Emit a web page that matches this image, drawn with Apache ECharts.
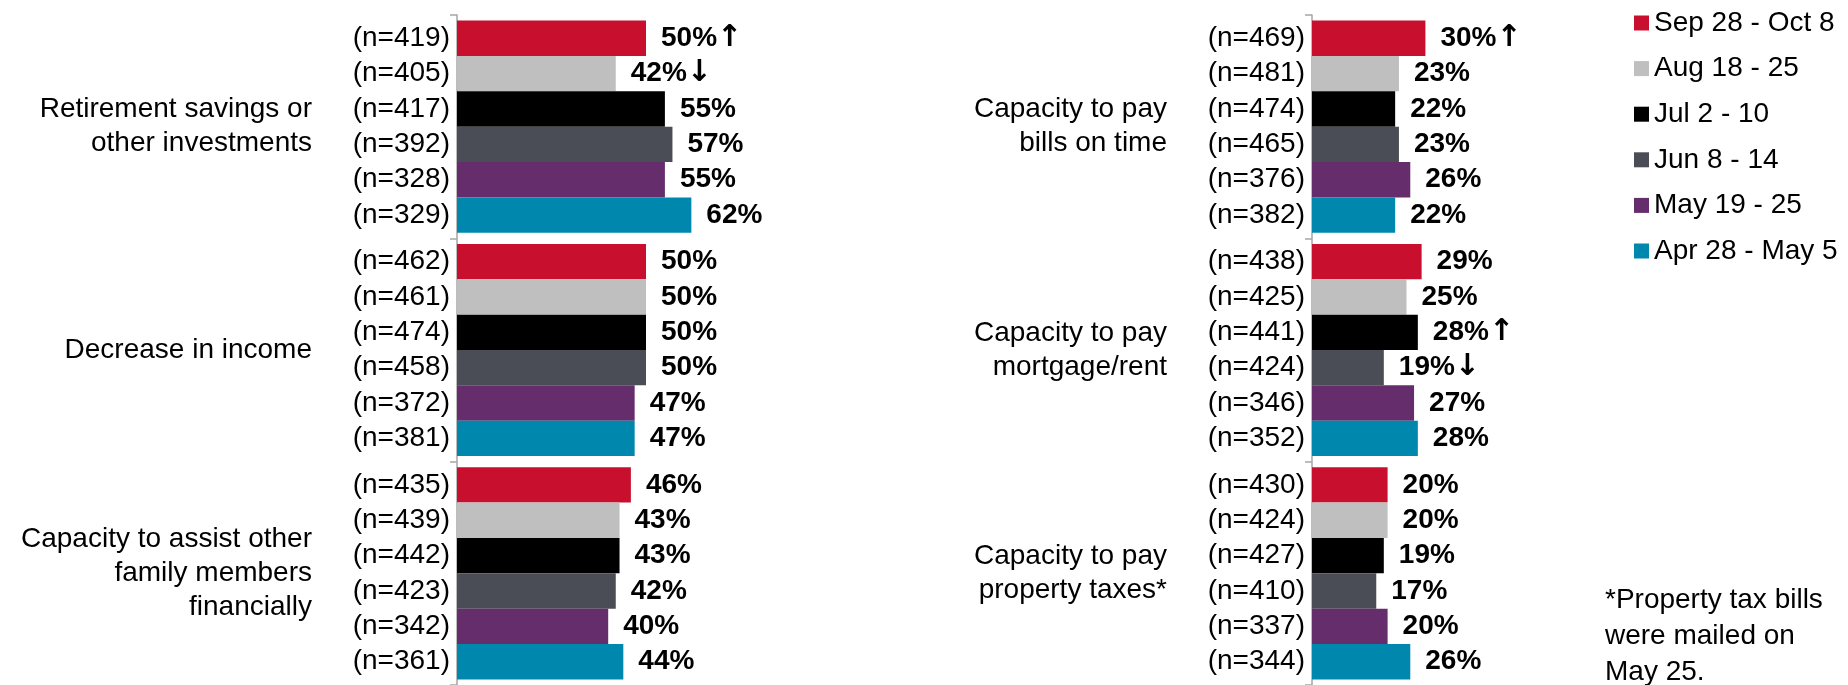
<!DOCTYPE html>
<html>
<head>
<meta charset="utf-8">
<script src="https://cdn.jsdelivr.net/npm/echarts@6/dist/echarts.min.js"></script>
<style>
html,body{margin:0;padding:0;background:#fff;}
#chart{width:1848px;height:685px;}
</style>
</head>
<body>
<div id="chart"></div>
<script>
// ---- Data ----
const periods = ['Sep 28 - Oct 8', 'Aug 18 - 25', 'Jul 2 - 10', 'Jun 8 - 14', 'May 19 - 25', 'Apr 28 - May 5'];
const colors = ['#C8102E', '#BFBFBF', '#000000', '#4A4D55', '#652D6C', '#0087AD'];

const leftCategories = ['Retirement savings or\nother investments', 'Decrease in income', 'Capacity to assist other\nfamily members\nfinancially'];
const rightCategories = ['Capacity to pay\nbills on time', 'Capacity to pay\nmortgage/rent', 'Capacity to pay\nproperty taxes*'];

// values (%) per period, across the 3 categories
const leftValues = [
  [50, 50, 46],
  [42, 50, 43],
  [55, 50, 43],
  [57, 50, 42],
  [55, 47, 40],
  [62, 47, 44]
];
const rightValues = [
  [30, 29, 20],
  [23, 25, 20],
  [22, 28, 19],
  [23, 19, 17],
  [26, 27, 20],
  [22, 28, 26]
];
// sample sizes
const leftN = [
  [419, 462, 435],
  [405, 461, 439],
  [417, 474, 442],
  [392, 458, 423],
  [328, 372, 342],
  [329, 381, 361]
];
const rightN = [
  [469, 438, 430],
  [481, 425, 424],
  [474, 441, 427],
  [465, 424, 410],
  [376, 346, 337],
  [382, 352, 344]
];
// significance arrows
const leftArrows = [
  ['up', '', ''],
  ['down', '', ''],
  ['', '', ''],
  ['', '', ''],
  ['', '', ''],
  ['', '', '']
];
const rightArrows = [
  ['up', '', ''],
  ['', '', ''],
  ['', 'up', ''],
  ['', 'down', ''],
  ['', '', ''],
  ['', '', '']
];
const footnote = '*Property tax bills\nwere mailed on\nMay 25.';

// ---- Chart ----
const FONT = '"Liberation Sans", Arial, sans-serif';
const FS = 28;
const arrowChar = {up: '\u2191', down: '\u2193'};

function buildSeries(gridIdx, values, ns, arrows) {
  const out = [];
  periods.forEach((p, i) => {
    const stackId = 'g' + gridIdx + '_' + i;
    // zero-length bar carrying the (n=...) label
    out.push({
      type: 'bar',
      name: 'n_' + gridIdx + '_' + i,
      xAxisIndex: gridIdx,
      yAxisIndex: gridIdx,
      stack: stackId,
      data: ns[i].map(() => 0),
      itemStyle: {color: 'rgba(0,0,0,0)'},
      silent: true,
      label: {
        show: true,
        position: 'left',
        distance: 7,
        fontFamily: FONT,
        fontSize: FS,
        color: '#000',
        formatter: (d) => '(n=' + ns[i][d.dataIndex] + ')'
      }
    });
    out.push({
      type: 'bar',
      name: p,
      xAxisIndex: gridIdx,
      yAxisIndex: gridIdx,
      stack: stackId,
      data: values[i],
      itemStyle: {color: colors[i]},
      barGap: '0%',
      barCategoryGap: '5%',
      label: {
        show: true,
        position: 'right',
        distance: 15,
        fontFamily: FONT,
        fontSize: FS,
        fontWeight: 'bold',
        color: '#000',
        formatter: (d) => {
          const a = arrows[i][d.dataIndex];
          return '{v|' + d.value + '%}' + (a ? '{a|' + arrowChar[a] + '}' : '');
        },
        rich: {
          v: {fontFamily: FONT, fontSize: FS, fontWeight: 'bold', color: '#000'},
          a: {fontFamily: '"DejaVu Sans", sans-serif', fontSize: 30, fontWeight: 'bold', color: '#000'}
        }
      }
    });
  });
  return out;
}

function yAx(gridIdx, cats) {
  return {
    type: 'category',
    gridIndex: gridIdx,
    data: cats,
    inverse: true,
    axisLine: {show: true, lineStyle: {color: '#A6A6A6', width: 1.5}},
    axisTick: {show: true, length: 7, lineStyle: {color: '#A6A6A6', width: 1.5}},
    axisLabel: {
      margin: 145,
      fontFamily: FONT,
      fontSize: FS,
      lineHeight: 34,
      color: '#000',
      align: 'right'
    },
    splitLine: {show: false}
  };
}

const chart = echarts.init(document.getElementById('chart'), null, {renderer: 'canvas'});
chart.setOption({
  animation: false,
  backgroundColor: '#fff',
  legend: {
    data: periods,
    orient: 'vertical',
    left: 1629,
    top: 4,
    icon: 'rect',
    itemWidth: 15,
    itemHeight: 15,
    itemGap: 17.6,
    textStyle: {fontFamily: FONT, fontSize: FS, color: '#000', lineHeight: 28},
    selectedMode: false
  },
  grid: [
    {left: 457, top: 15, width: 378, height: 670},
    {left: 1312, top: 15, width: 378, height: 670}
  ],
  xAxis: [
    {type: 'value', gridIndex: 0, min: 0, max: 100, show: false},
    {type: 'value', gridIndex: 1, min: 0, max: 100, show: false}
  ],
  yAxis: [yAx(0, leftCategories), yAx(1, rightCategories)],
  series: buildSeries(0, leftValues, leftN, leftArrows).concat(buildSeries(1, rightValues, rightN, rightArrows)),
  graphic: [{
    type: 'text',
    left: 1605,
    top: 582,
    style: {
      text: footnote,
      font: FS + 'px ' + FONT,
      fill: '#000',
      lineHeight: 36
    }
  }]
});
</script>
</body>
</html>
